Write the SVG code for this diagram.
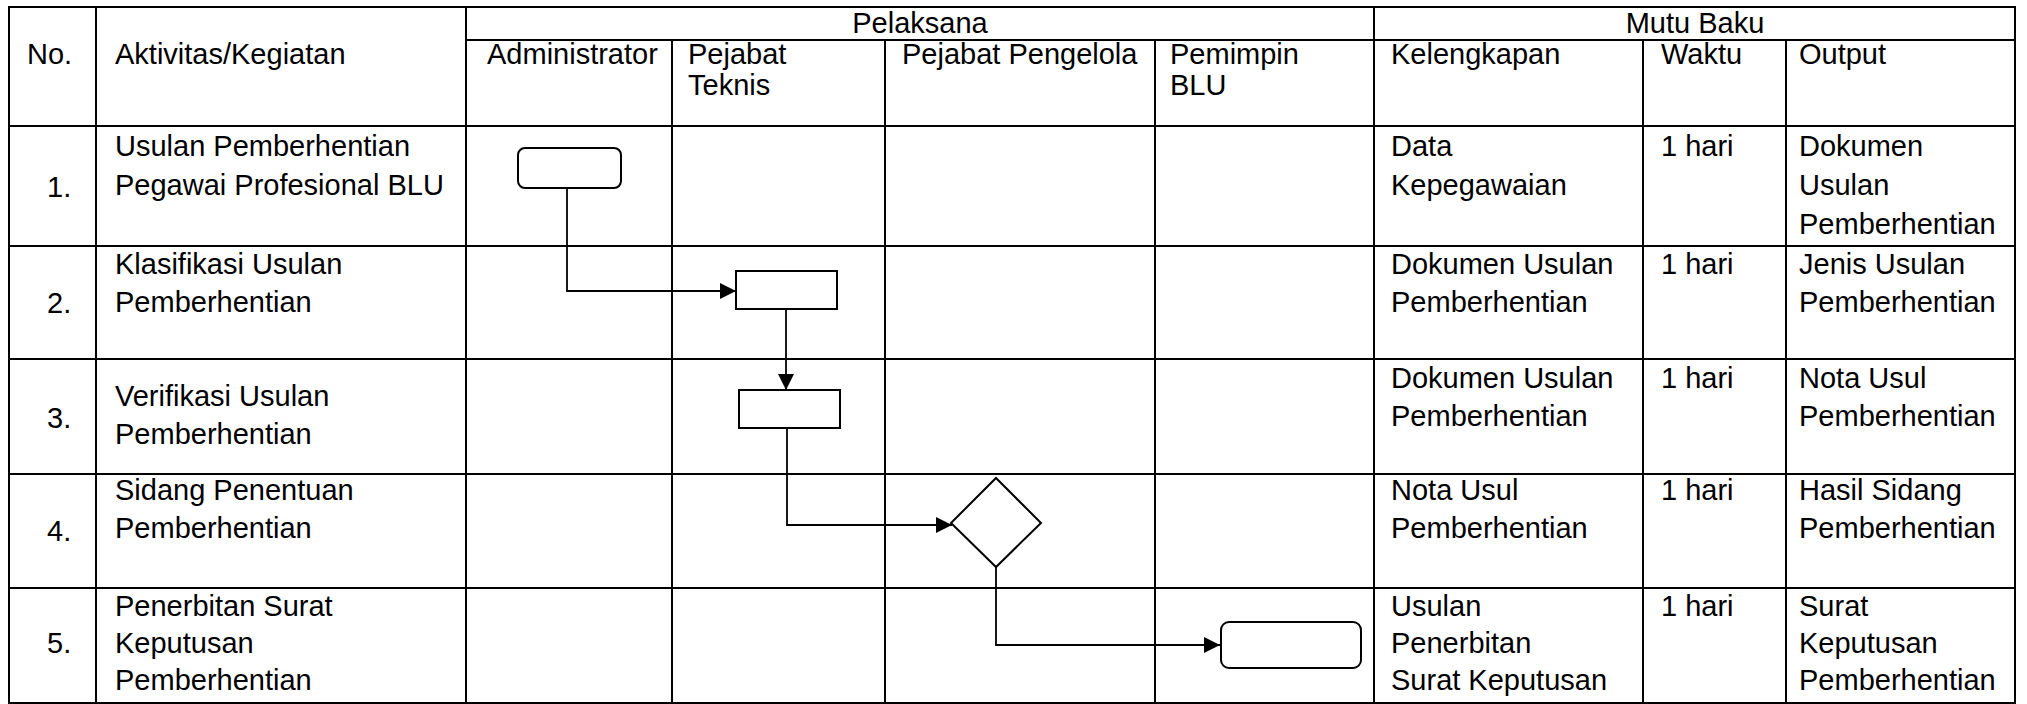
<svg xmlns="http://www.w3.org/2000/svg" width="2027" height="704" viewBox="0 0 2027 704">
<style>
text{font-family:"Liberation Sans",Arial,sans-serif;font-size:29px;fill:#000}
.c{text-anchor:middle}
.grid{stroke:#000;stroke-width:2;fill:none}
.shape{fill:#fff;stroke:#000;stroke-width:2}
.conn{fill:none;stroke:#000;stroke-width:1.8}
</style>
<defs>
<marker id="arr" markerUnits="userSpaceOnUse" markerWidth="16" markerHeight="16" viewBox="0 0 10 10" refX="10" refY="5" orient="auto">
<path d="M0,0 L10,5 L0,10 z" fill="#000"/>
</marker>
</defs>
<rect width="2027" height="704" fill="#fff"/>
<g id="table" class="grid">
<rect x="9" y="7" width="2006" height="696"/>
<line x1="466" y1="40" x2="2015" y2="40"/>
<line x1="9" y1="126" x2="2015" y2="126"/>
<line x1="9" y1="246" x2="2015" y2="246"/>
<line x1="9" y1="359" x2="2015" y2="359"/>
<line x1="9" y1="474" x2="2015" y2="474"/>
<line x1="9" y1="588" x2="2015" y2="588"/>
<line x1="96" y1="7" x2="96" y2="703"/>
<line x1="466" y1="7" x2="466" y2="703"/>
<line x1="672" y1="40" x2="672" y2="703"/>
<line x1="885" y1="40" x2="885" y2="703"/>
<line x1="1155" y1="40" x2="1155" y2="703"/>
<line x1="1374" y1="7" x2="1374" y2="703"/>
<line x1="1643" y1="40" x2="1643" y2="703"/>
<line x1="1786" y1="40" x2="1786" y2="703"/>
</g>
<g id="header">
<text class="c" x="920" y="33">Pelaksana</text>
<text class="c" x="1695" y="33">Mutu Baku</text>
<text x="27" y="64">No.</text>
<text x="115" y="64">Aktivitas/Kegiatan</text>
<text x="487" y="64">Administrator</text>
<text x="688" y="64">Pejabat</text>
<text x="688" y="95">Teknis</text>
<text x="902" y="64">Pejabat Pengelola</text>
<text x="1170" y="64">Pemimpin</text>
<text x="1170" y="95">BLU</text>
<text x="1391" y="64">Kelengkapan</text>
<text x="1661" y="64">Waktu</text>
<text x="1799" y="64">Output</text>
</g>
<g id="row1">
<text x="47" y="197">1.</text>
<text x="115" y="156">Usulan Pemberhentian</text>
<text x="115" y="195">Pegawai Profesional BLU</text>
<text x="1391" y="156">Data</text>
<text x="1391" y="195">Kepegawaian</text>
<text x="1661" y="156">1 hari</text>
<text x="1799" y="156">Dokumen</text>
<text x="1799" y="195">Usulan</text>
<text x="1799" y="234">Pemberhentian</text>
</g>
<g id="row2">
<text x="47" y="313">2.</text>
<text x="115" y="274">Klasifikasi Usulan</text>
<text x="115" y="312">Pemberhentian</text>
<text x="1391" y="274">Dokumen Usulan</text>
<text x="1391" y="312">Pemberhentian</text>
<text x="1661" y="274">1 hari</text>
<text x="1799" y="274">Jenis Usulan</text>
<text x="1799" y="312">Pemberhentian</text>
</g>
<g id="row3">
<text x="47" y="428">3.</text>
<text x="115" y="406">Verifikasi Usulan</text>
<text x="115" y="444">Pemberhentian</text>
<text x="1391" y="388">Dokumen Usulan</text>
<text x="1391" y="426">Pemberhentian</text>
<text x="1661" y="388">1 hari</text>
<text x="1799" y="388">Nota Usul</text>
<text x="1799" y="426">Pemberhentian</text>
</g>
<g id="row4">
<text x="47" y="541">4.</text>
<text x="115" y="500">Sidang Penentuan</text>
<text x="115" y="538">Pemberhentian</text>
<text x="1391" y="500">Nota Usul</text>
<text x="1391" y="538">Pemberhentian</text>
<text x="1661" y="500">1 hari</text>
<text x="1799" y="500">Hasil Sidang</text>
<text x="1799" y="538">Pemberhentian</text>
</g>
<g id="row5">
<text x="47" y="653">5.</text>
<text x="115" y="616">Penerbitan Surat</text>
<text x="115" y="653">Keputusan</text>
<text x="115" y="690">Pemberhentian</text>
<text x="1391" y="616">Usulan</text>
<text x="1391" y="653">Penerbitan</text>
<text x="1391" y="690">Surat Keputusan</text>
<text x="1661" y="616">1 hari</text>
<text x="1799" y="616">Surat</text>
<text x="1799" y="653">Keputusan</text>
<text x="1799" y="690">Pemberhentian</text>
</g>
<g id="connectors">
<path class="conn" d="M567,188 V291 H736" marker-end="url(#arr)"/>
<path class="conn" d="M786,309 V390" marker-end="url(#arr)"/>
<path class="conn" d="M787,428 V525 H952" marker-end="url(#arr)"/>
<path class="conn" d="M996,567 V645 H1220" marker-end="url(#arr)"/>
</g>
<g id="start">
<rect class="shape" x="518" y="148" width="103" height="40" rx="7"/>
</g>
<g id="klasifikasi">
<rect class="shape" x="736" y="271" width="101" height="38"/>
</g>
<g id="verifikasi">
<rect class="shape" x="739" y="390" width="101" height="38"/>
</g>
<g id="sidang">
<polygon class="shape" points="996,478 1041,523 996,567 951,523"/>
</g>
<g id="end">
<rect class="shape" x="1221" y="622" width="140" height="46" rx="8"/>
</g>
</svg>
